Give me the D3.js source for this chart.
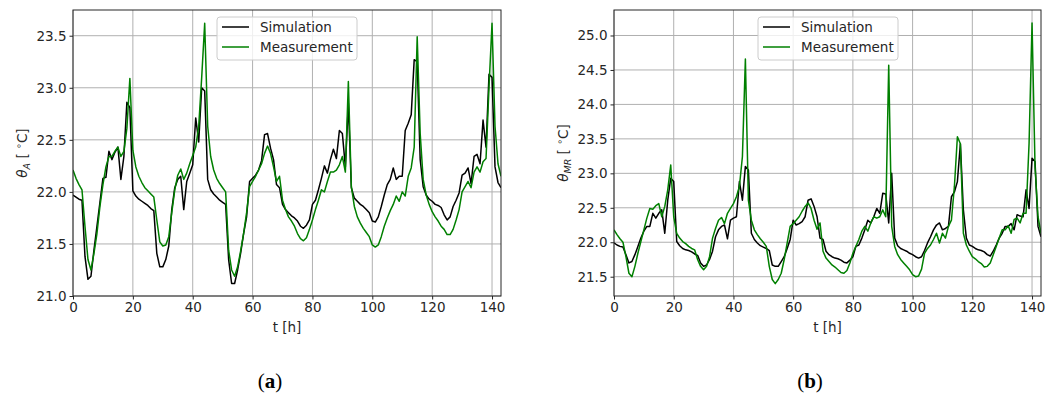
<!DOCTYPE html>
<html>
<head>
<meta charset="utf-8">
<script src="https://cdn.jsdelivr.net/npm/d3@7"></script>
<style>
  body { margin: 0; background: #fff; }
  svg { display: block; font-family: "DejaVu Sans", sans-serif; }
</style>
</head>
<body>
<svg id="chart" width="1057" height="396"></svg>
<script>
// hourly samples, t = 0..143 h
const hours = d3.range(0, 144);

const simA = [21.97,21.95,21.93,21.92,21.38,21.16,21.19,21.44,21.67,21.9,
  22.13,22.14,22.39,22.31,22.38,22.43,22.12,22.34,22.86,22.81,
  22.01,21.96,21.93,21.91,21.89,21.87,21.84,21.82,21.41,21.28,
  21.28,21.35,21.48,21.83,22.04,22.12,22.15,21.83,22.1,22.18,
  22.26,22.71,22.48,23.0,22.97,22.12,22.02,21.98,21.95,21.92,
  21.9,21.88,21.35,21.12,21.12,21.25,21.41,21.6,21.76,22.1,
  22.13,22.16,22.21,22.3,22.55,22.56,22.42,22.31,22.07,22.04,
  21.88,21.83,21.8,21.77,21.75,21.72,21.67,21.65,21.68,21.73,
  21.88,21.92,22.02,22.13,22.25,22.18,22.31,22.41,22.32,22.59,
  22.56,22.24,22.85,22.04,21.94,21.91,21.88,21.86,21.83,21.8,
  21.72,21.71,21.76,21.86,21.97,22.07,22.12,22.23,22.12,22.15,
  22.15,22.59,22.66,22.74,23.27,23.25,22.31,22.05,21.97,21.93,
  21.91,21.88,21.87,21.85,21.78,21.73,21.76,21.86,21.92,21.99,
  22.16,22.18,22.23,22.08,22.34,22.36,22.27,22.69,22.43,23.13,
  23.1,22.24,22.09,22.04];

const measA = [22.21,22.13,22.07,22.02,21.67,21.35,21.25,21.41,21.6,21.86,
  22.07,22.24,22.34,22.34,22.39,22.43,22.34,22.39,22.61,23.09,
  22.4,22.24,22.15,22.09,22.04,22.01,21.98,21.95,21.73,21.52,
  21.48,21.49,21.57,21.8,22.02,22.16,22.22,22.12,22.18,22.27,
  22.35,22.43,22.63,23.1,23.62,22.63,22.34,22.21,22.13,22.08,
  22.04,22.0,21.44,21.25,21.19,21.28,21.43,21.6,21.8,22.05,
  22.1,22.15,22.21,22.27,22.37,22.44,22.37,22.24,22.1,22.15,
  21.92,21.83,21.76,21.72,21.67,21.6,21.55,21.53,21.56,21.64,
  21.73,21.83,21.92,22.02,22.0,22.1,22.19,22.19,22.21,22.26,
  22.34,22.19,23.06,22.05,21.86,21.76,21.7,21.65,21.61,21.57,
  21.49,21.47,21.49,21.57,21.67,21.75,21.82,21.88,21.96,21.91,
  22.0,21.96,22.15,22.23,22.43,23.49,22.56,22.12,21.97,21.88,
  21.81,21.76,21.72,21.67,21.64,21.59,21.59,21.64,21.73,21.83,
  22.0,22.05,22.1,22.04,22.19,22.24,22.19,22.29,22.32,23.01,
  23.62,22.63,22.27,22.15];

const simMR = [21.99,21.96,21.94,21.93,21.82,21.7,21.72,21.82,21.94,22.06,
  22.16,22.23,22.23,22.42,22.35,22.42,22.47,22.13,22.61,22.93,
  22.88,22.01,21.95,21.91,21.89,21.88,21.86,21.83,21.81,21.7,
  21.65,21.67,21.75,21.87,22.08,22.18,22.23,22.25,22.05,22.32,
  22.35,22.37,22.88,22.61,23.1,23.05,22.13,22.04,21.99,21.95,
  21.93,21.91,21.88,21.67,21.65,21.65,21.72,21.79,21.91,22.04,
  22.32,22.25,22.27,22.3,22.37,22.61,22.63,22.52,22.37,22.06,
  22.04,21.87,21.82,21.79,21.77,21.76,21.74,21.71,21.7,21.74,
  21.79,21.94,21.96,22.06,22.18,22.32,22.28,22.37,22.49,22.42,
  22.71,22.7,22.28,23.0,22.06,21.95,21.91,21.89,21.87,21.84,
  21.82,21.79,21.77,21.79,21.88,21.99,22.08,22.18,22.25,22.28,
  22.18,22.2,22.23,22.66,22.73,22.88,23.43,22.47,22.06,21.96,
  21.94,21.91,21.89,21.88,21.86,21.82,21.8,21.87,21.96,22.06,
  22.13,22.23,22.23,22.27,22.18,22.4,22.38,22.37,22.76,22.49,
  23.22,23.17,22.23,22.08];

const measMR = [22.18,22.11,22.05,22.0,21.79,21.55,21.5,21.65,21.84,22.01,
  22.18,22.35,22.49,22.48,22.53,22.56,22.37,22.52,22.76,23.12,
  22.37,22.13,22.06,22.01,21.98,21.94,21.91,21.89,21.75,21.65,
  21.6,21.65,21.79,22.06,22.2,22.32,22.36,22.27,22.42,22.49,
  22.56,22.66,22.81,23.24,24.66,22.61,22.32,22.18,22.11,22.05,
  22.0,21.94,21.65,21.46,21.4,21.46,21.55,21.75,21.99,22.23,
  22.27,22.32,22.37,22.45,22.52,22.57,22.49,22.32,22.19,22.28,
  21.87,21.77,21.72,21.67,21.64,21.6,21.56,21.55,21.59,21.7,
  21.84,21.94,22.04,22.16,22.23,22.16,22.28,22.37,22.35,22.37,
  22.47,22.37,24.57,22.23,21.94,21.82,21.75,21.7,21.65,21.6,
  21.53,21.5,21.51,21.61,21.84,21.91,21.96,22.04,22.13,21.99,
  22.13,22.06,22.23,22.32,22.81,23.53,23.43,22.13,21.96,21.87,
  21.79,21.76,21.72,21.69,21.64,21.65,21.7,21.82,21.94,22.06,
  22.18,22.18,22.24,22.13,22.33,22.35,22.28,22.42,22.42,23.43,
  25.18,23.1,22.37,22.13];

const xTicks = [0, 20, 40, 60, 80, 100, 120, 140];
const yTicksA = [21.0, 21.5, 22.0, 22.5, 23.0, 23.5];
const yTicksMR = [21.5, 22.0, 22.5, 23.0, 23.5, 24.0, 24.5, 25.0];
const legendLabels = ["Simulation", "Measurement"];
const seriesColors = ["#000000", "#008000"];

const svg = d3.select("#chart");
const tickColor = "#262626";
const fontSize = "13.5px";

function panel(left, right, yDomain, yTicks, sim, meas, subscript, caption, captionX) {
  const top = 10, bottom = 296;
  const x = d3.scaleLinear().domain([0, 143]).range([left, right]);
  const y = d3.scaleLinear().domain(yDomain).range([bottom, top]);
  const g = svg.append("g");

  // grid
  g.append("g").selectAll("line").data(xTicks).join("line")
    .attr("x1", (d) => x(d)).attr("x2", (d) => x(d))
    .attr("y1", top).attr("y2", bottom)
    .attr("stroke", "#b0b0b0").attr("stroke-width", 1);
  g.append("g").selectAll("line").data(yTicks).join("line")
    .attr("x1", left).attr("x2", right)
    .attr("y1", (d) => y(d)).attr("y2", (d) => y(d))
    .attr("stroke", "#b0b0b0").attr("stroke-width", 1);

  const line = d3.line().x((d, i) => x(hours[i])).y((d) => y(d));
  const clipId = "clip" + caption;
  g.append("clipPath").attr("id", clipId).append("rect")
    .attr("x", left).attr("y", top).attr("width", right - left).attr("height", bottom - top);
  const lines = g.append("g").attr("clip-path", `url(#${clipId})`);
  [sim, meas].forEach((s, i) => {
    lines.append("path").datum(s)
      .attr("fill", "none")
      .attr("stroke", seriesColors[i])
      .attr("stroke-width", 1.5)
      .attr("stroke-linejoin", "round")
      .attr("d", line);
  });

  // axes
  const xAxis = g.append("g").attr("transform", `translate(0,${bottom})`)
    .call(d3.axisBottom(x).tickValues(xTicks).tickSize(3.5).tickPadding(3).tickFormat(d3.format("d")));
  const yAxis = g.append("g").attr("transform", `translate(${left},0)`)
    .call(d3.axisLeft(y).tickValues(yTicks).tickSize(3.5).tickPadding(3).tickFormat(d3.format(".1f")));
  [xAxis, yAxis].forEach((a) => {
    a.select(".domain").remove();
    a.selectAll(".tick line").attr("stroke", tickColor);
    a.selectAll("text").attr("fill", tickColor).style("font-size", fontSize)
      .style("font-family", "DejaVu Sans");
  });

  // frame
  g.append("rect").attr("x", left).attr("y", top)
    .attr("width", right - left).attr("height", bottom - top)
    .attr("fill", "none").attr("stroke", tickColor).attr("stroke-width", 1);

  // axis labels
  g.append("text").attr("x", (left + right) / 2).attr("y", 332)
    .attr("text-anchor", "middle").attr("fill", tickColor)
    .style("font-size", fontSize).text("t [h]");

  const yl = g.append("text")
    .attr("transform", `translate(${left - 46},${(top + bottom) / 2}) rotate(-90)`)
    .attr("text-anchor", "middle").attr("fill", tickColor).style("font-size", fontSize);
  yl.append("tspan").style("font-style", "italic").text("θ");
  yl.append("tspan").style("font-style", "italic").style("font-size", "9.5px").attr("dy", 3).text(subscript);
  yl.append("tspan").attr("dy", -3).text(" [ ");
  yl.append("tspan").style("font-size", "9.5px").attr("dy", -5).text("∘");
  yl.append("tspan").attr("dy", 5).text("C]");

  // legend
  const lx = left + 144, ly = 17;
  const leg = g.append("g");
  leg.append("rect").attr("x", lx).attr("y", ly).attr("width", 140).attr("height", 43)
    .attr("rx", 3).attr("fill", "#ffffff").attr("fill-opacity", 0.8)
    .attr("stroke", "#cccccc").attr("stroke-width", 1);
  legendLabels.forEach((lab, i) => {
    const yy = ly + 10 + i * 20;
    leg.append("line").attr("x1", lx + 5).attr("x2", lx + 32)
      .attr("y1", yy).attr("y2", yy)
      .attr("stroke", seriesColors[i]).attr("stroke-width", 1.5);
    leg.append("text").attr("x", lx + 43).attr("y", yy + 5)
      .attr("fill", tickColor).style("font-size", fontSize).text(lab);
  });

  // caption
  const cap = g.append("text").attr("x", captionX).attr("y", 388)
    .attr("text-anchor", "middle").attr("fill", "#000")
    .style("font-family", "'Liberation Serif', serif").style("font-size", "21px");
  cap.append("tspan").text("(");
  cap.append("tspan").style("font-weight", "bold").text(caption);
  cap.append("tspan").text(")");
}

panel(73, 501, [21.0, 23.747], yTicksA, simA, measA, "A", "a", 270);
panel(614, 1041, [21.22, 25.37], yTicksMR, simMR, measMR, "MR", "b", 810);
</script>
</body>
</html>
